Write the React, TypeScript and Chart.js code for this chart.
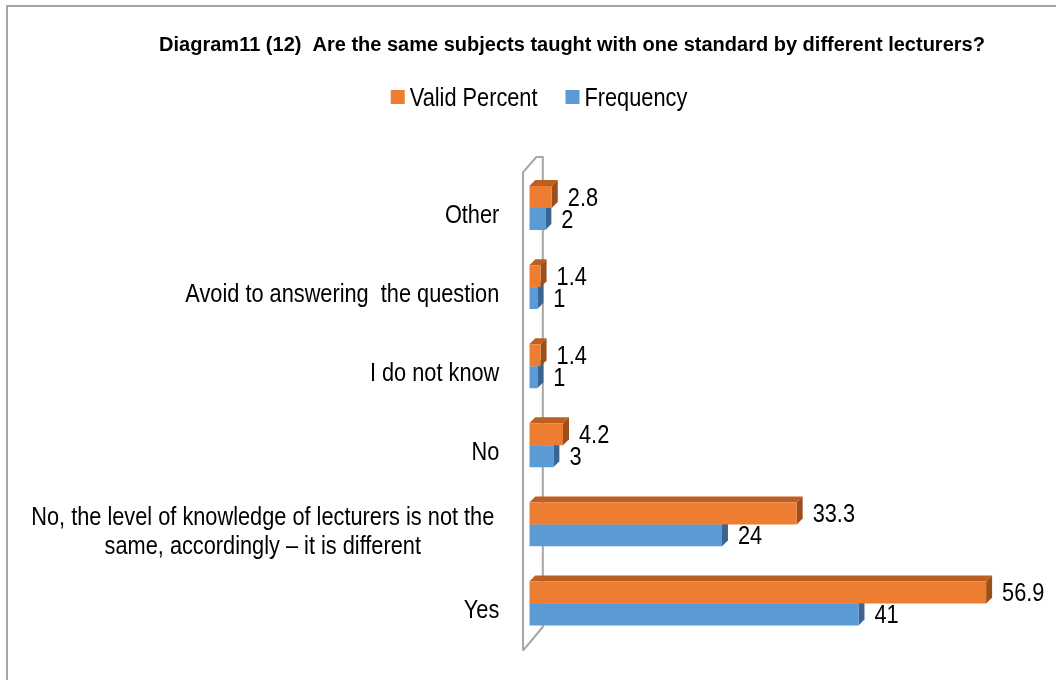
import React, { useEffect, useRef } from 'react';
import { Chart, registerables } from 'chart.js';

Chart.register(...registerables);

const categories: (string | string[])[] = [
  'Other',
  'Avoid to answering  the question',
  'I do not know',
  'No',
  ['No, the level of knowledge of lecturers is not the', 'same, accordingly – it is different'],
  'Yes',
];
const validPercent = [2.8, 1.4, 1.4, 4.2, 33.3, 56.9];
const frequency = [2, 1, 1, 3, 24, 41];
const seriesNames = ['Valid Percent', 'Frequency'];
const titleText = 'Diagram11 (12)  Are the same subjects taught with one standard by different lecturers?';
const xMax = 60;

const FONT = "'Liberation Sans', Arial, sans-serif";
const NARROW = 0.87;
const ORANGE = '#ED7D31';
const BLUE = '#5B9BD5';
const FACE_TOP = ['#BD5E22', '#4A7DB0'];
const FACE_SIDE = ['#9C4E1B', '#3A6590'];
const DEPTH = 6;

function narrowText(ctx: CanvasRenderingContext2D, text: string, x: number, y: number, align: CanvasTextAlign) {
  ctx.save();
  ctx.translate(x, y);
  ctx.scale(NARROW, 1);
  ctx.textAlign = align;
  ctx.textBaseline = 'middle';
  ctx.fillText(text, 0, 0);
  ctx.restore();
}

const framePlugin = {
  id: 'frame',
  beforeDraw(chart: any) {
    const ctx = chart.ctx;
    ctx.save();
    ctx.fillStyle = '#fff';
    ctx.fillRect(0, 0, chart.width, chart.height);
    ctx.strokeStyle = '#A6A6A6';
    ctx.lineWidth = 2;
    ctx.beginPath();
    ctx.moveTo(7, chart.height);
    ctx.lineTo(7, 6);
    ctx.lineTo(chart.width, 6);
    ctx.stroke();
    ctx.restore();
  },
};

const wallPlugin = {
  id: 'wall',
  beforeDatasetsDraw(chart: any) {
    const { left, top, bottom } = chart.chartArea;
    const ctx = chart.ctx;
    ctx.save();
    ctx.strokeStyle = '#A6A6A6';
    ctx.lineWidth = 2;
    ctx.lineJoin = 'round';
    ctx.beginPath();
    ctx.moveTo(left - 6.3, bottom + 7.6);
    ctx.lineTo(left - 6.3, top + 3.8);
    ctx.lineTo(left + 7, top - 11.5);
    ctx.lineTo(left + 13.5, top - 11.5);
    ctx.lineTo(left + 13.5, bottom - 16);
    ctx.lineTo(left - 6.3, bottom + 7.6);
    ctx.stroke();
    ctx.restore();
  },
};

const bar3dPlugin = {
  id: 'bar3d',
  beforeDatasetDraw(chart: any, args: any) {
    const ctx = chart.ctx;
    const di = args.index;
    const d = DEPTH;
    ctx.save();
    args.meta.data.forEach((bar: any) => {
      const { x, y, base, height } = bar.getProps(['x', 'y', 'base', 'height'], true);
      const t = y - height / 2;
      const b = y + height / 2;
      ctx.fillStyle = FACE_TOP[di];
      ctx.beginPath();
      ctx.moveTo(base, t);
      ctx.lineTo(base + d, t - d);
      ctx.lineTo(x + d, t - d);
      ctx.lineTo(x, t);
      ctx.closePath();
      ctx.fill();
      ctx.fillStyle = FACE_SIDE[di];
      ctx.beginPath();
      ctx.moveTo(x, t);
      ctx.lineTo(x + d, t - d);
      ctx.lineTo(x + d, b - d);
      ctx.lineTo(x, b);
      ctx.closePath();
      ctx.fill();
    });
    ctx.restore();
  },
};

const textPlugin = {
  id: 'texts',
  afterDraw(chart: any) {
    const ctx = chart.ctx as CanvasRenderingContext2D;
    const ys = chart.scales.y;
    const area = chart.chartArea;
    ctx.save();
    ctx.fillStyle = '#000';

    // title
    ctx.font = `bold 20px ${FONT}`;
    ctx.textAlign = 'center';
    ctx.textBaseline = 'middle';
    ctx.fillText(titleText, 572, 45);

    // legend
    ctx.font = `25px ${FONT}`;
    const colors = [ORANGE, BLUE];
    const box = 14;
    const gapText = 5;
    const gapItem = 28;
    const widths = seriesNames.map((n) => ctx.measureText(n).width * NARROW);
    const total = widths.reduce((s, w) => s + box + gapText + w, 0) + gapItem * (seriesNames.length - 1);
    let lx = 539 - total / 2;
    const ly = 97;
    seriesNames.forEach((n, i) => {
      ctx.fillStyle = colors[i];
      ctx.fillRect(lx, ly - box / 2, box, box);
      ctx.fillStyle = '#000';
      narrowText(ctx, n, lx + box + gapText, ly + 2, 'left');
      lx += box + gapText + widths[i] + gapItem;
    });

    // category labels
    ctx.font = `25px ${FONT}`;
    const right = area.left - 30;
    categories.forEach((c, i) => {
      const lines = Array.isArray(c) ? c : [c];
      const bw = Math.max(...lines.map((l) => ctx.measureText(l).width * NARROW));
      const cy = ys.getPixelForValue(i) + 8;
      const rr = lines.length > 1 ? right - 5 : right;
      lines.forEach((l, j) => {
        const yy = cy + (j - (lines.length - 1) / 2) * 29;
        narrowText(ctx, l, rr - bw / 2, yy, 'center');
      });
    });

    // data labels
    ctx.font = `25px ${FONT}`;
    chart.data.datasets.forEach((ds: any, di: number) => {
      const meta = chart.getDatasetMeta(di);
      meta.data.forEach((bar: any, i: number) => {
        const { x, y } = bar.getProps(['x', 'y'], true);
        narrowText(ctx, String(ds.data[i]), x + 16, y + 2, 'left');
      });
    });
    ctx.restore();
  },
};

export default function App() {
  const ref = useRef<HTMLCanvasElement>(null);
  useEffect(() => {
    document.body.style.margin = '0';
    const chart = new Chart(ref.current as HTMLCanvasElement, {
      type: 'bar',
      data: {
        labels: categories as any,
        datasets: [
          {
            label: seriesNames[0],
            data: validPercent,
            backgroundColor: ORANGE,
            borderWidth: 0,
            categoryPercentage: 0.556,
            barPercentage: 1,
          },
          {
            label: seriesNames[1],
            data: frequency,
            backgroundColor: BLUE,
            borderWidth: 0,
            categoryPercentage: 0.556,
            barPercentage: 1,
          },
        ],
      },
      options: {
        indexAxis: 'y',
        animation: false,
        responsive: false,
        layout: { padding: { left: 65, right: 45, top: 168.5, bottom: 37 } },
        plugins: {
          title: { display: false },
          tooltip: { enabled: false },
          legend: { display: false },
        },
        scales: {
          x: {
            display: false,
            min: 0,
            max: xMax,
          },
          y: {
            position: 'left',
            ticks: { display: false },
            grid: { display: false },
            border: { display: false },
            afterFit: (s: any) => {
              s.width = 529.3 - 65;
            },
          },
        },
      },
      plugins: [framePlugin, wallPlugin, bar3dPlugin, textPlugin],
    });
    return () => chart.destroy();
  }, []);
  return (
    <div style={{ position: 'absolute', left: 0, top: 0, width: 1056, height: 680 }}>
      <canvas ref={ref} width={1056} height={680} />
    </div>
  );
}
